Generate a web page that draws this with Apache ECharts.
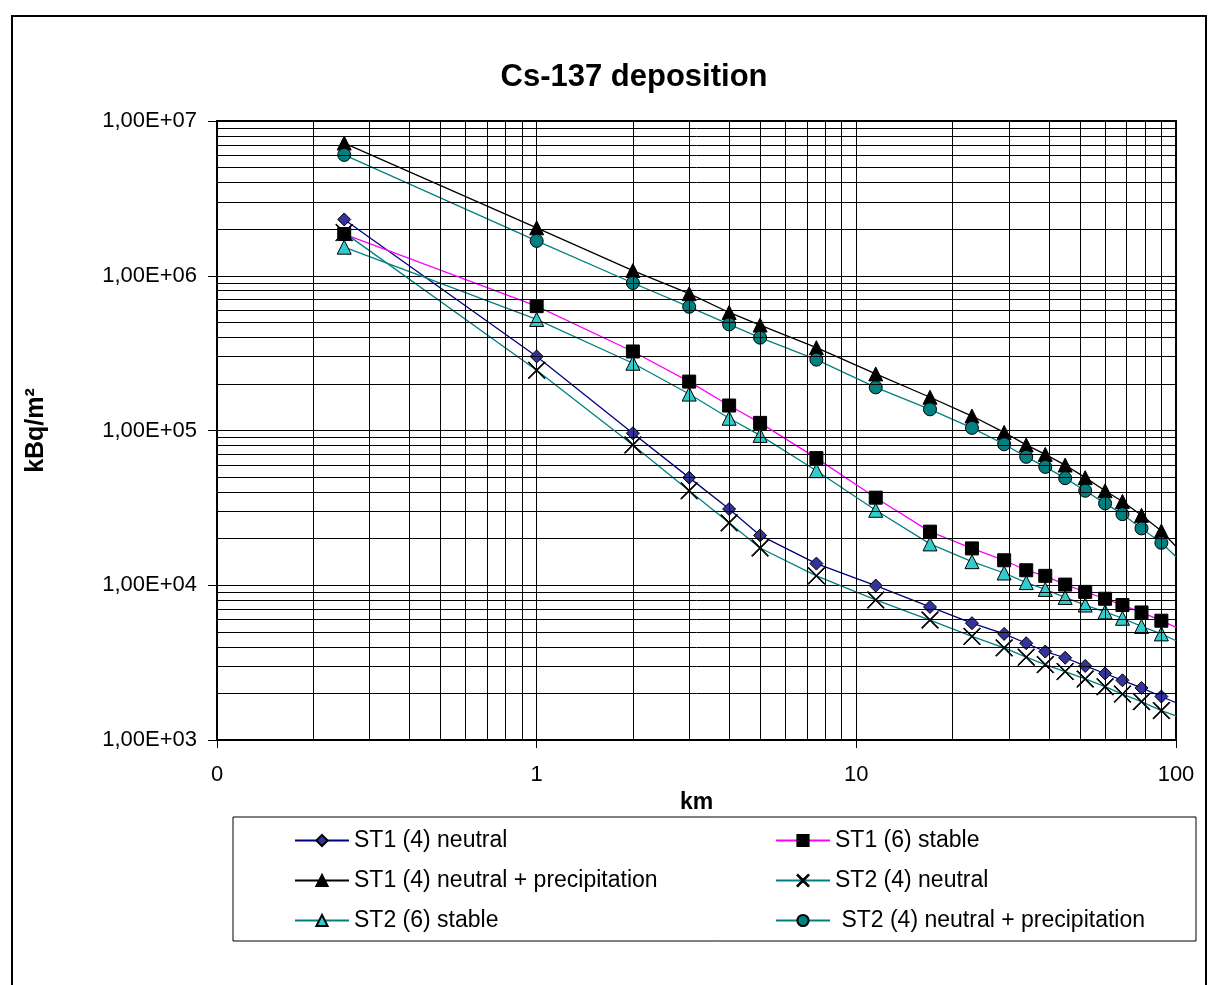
<!DOCTYPE html>
<html>
<head>
<meta charset="utf-8">
<script src="https://cdn.jsdelivr.net/npm/echarts@6/dist/echarts.min.js"></script>
<style>
  html, body { margin: 0; padding: 0; background: #fff; }
  #chart { width: 1208px; height: 985px; }
</style>
</head>
<body>
<div id="chart"></div>
<script>
// distances (km) - last one has no marker, line just runs to the edge
const dist = [0.25, 1, 2, 3, 4, 5, 7.5, 11.5, 17, 23, 29, 34, 39, 45, 52, 60, 68, 78, 90, 100];

const st1Neutral = [2.31e6, 3.01e5, 9.6e4, 4.96e4, 3.11e4, 2.1e4, 1.38e4, 9.95e3, 7.24e3, 5.69e3, 4.85e3, 4.22e3, 3.73e3, 3.40e3, 3.01e3, 2.69e3, 2.43e3, 2.17e3, 1.91e3, 1.74e3];
const st1Stable = [1.86e6, 6.36e5, 3.24e5, 2.07e5, 1.45e5, 1.12e5, 6.63e4, 3.68e4, 2.22e4, 1.73e4, 1.45e4, 1.25e4, 1.15e4, 1.01e4, 9.06e3, 8.18e3, 7.45e3, 6.67e3, 5.9e3, 5.35e3];
const st1Precip = [7.2e6, 2.04e6, 1.08e6, 7.66e5, 5.79e5, 4.8e5, 3.43e5, 2.32e5, 1.64e5, 1.24e5, 9.72e4, 8.07e4, 7.01e4, 5.98e4, 4.96e4, 4.08e4, 3.48e4, 2.83e4, 2.24e4, 1.78e4];
const st2Neutral = [1.9e6, 2.45e5, 8.07e4, 4.08e4, 2.53e4, 1.74e4, 1.15e4, 8.04e3, 5.96e3, 4.67e3, 3.94e3, 3.43e3, 3.07e3, 2.77e3, 2.48e3, 2.21e3, 1.98e3, 1.77e3, 1.55e3, 1.43e3];
const st2Stable = [1.53e6, 5.22e5, 2.72e5, 1.72e5, 1.2e5, 9.3e4, 5.5e4, 3.05e4, 1.85e4, 1.42e4, 1.2e4, 1.04e4, 9.4e3, 8.34e3, 7.45e3, 6.73e3, 6.12e3, 5.42e3, 4.85e3, 4.38e3];
const st2Precip = [6.04e6, 1.68e6, 8.98e5, 6.3e5, 4.85e5, 3.98e5, 2.87e5, 1.9e5, 1.37e5, 1.04e5, 8.15e4, 6.76e4, 5.82e4, 4.92e4, 4.08e4, 3.38e4, 2.88e4, 2.33e4, 1.88e4, 1.53e4];

// minor grid positions (log axes)
const xMinor = [0.2, 0.3, 0.4, 0.5, 0.6, 0.7, 0.8, 0.9, 2, 3, 4, 5, 6, 7, 8, 9, 20, 30, 40, 50, 60, 70, 80, 90];
const yMinor = [];
[1e3, 1e4, 1e5, 1e6].forEach(d => { for (let k = 2; k <= 9; k++) yMinor.push(k * d); });

const FONT = '"Liberation Sans", Arial, sans-serif';
// thin X marker
const crossPath = 'path://M0,0.4L0.4,0L5,4.6L9.6,0L10,0.4L5.4,5L10,9.6L9.6,10L5,5.4L0.4,10L0,9.6L4.6,5Z';

function pts(vals) {
  return dist.map((d, i) => i === dist.length - 1
    ? { value: [d, vals[i]], symbol: 'none' }
    : [d, vals[i]]);
}

function mkSeries(name, vals, lineColor, symbol, size, fill) {
  return {
    name: name,
    type: 'line',
    data: pts(vals),
    symbol: symbol,
    symbolSize: size,
    showAllSymbol: true,
    z: 3,
    lineStyle: { color: lineColor, width: 1.3 },
    itemStyle: { color: fill, borderColor: '#000', borderWidth: 1 },
    emphasis: { disabled: true }
  };
}

const chart = echarts.init(document.getElementById('chart'));

const legendCommon = {
  orient: 'vertical',
  top: 824,
  itemWidth: 54,
  itemHeight: 14,
  itemGap: 17,
  textStyle: { fontFamily: FONT, fontSize: 23, color: '#000' },
  selectedMode: false
};

chart.setOption({
  animation: false,
  backgroundColor: '#fff',
  grid: {
    left: 217, right: 32, top: 121, bottom: 245,
    show: true, borderColor: '#000', borderWidth: 2, backgroundColor: '#fff'
  },
  graphic: [
    { type: 'rect', shape: { x: 12, y: 16, width: 1194, height: 1000 },
      style: { fill: 'none', stroke: '#000', lineWidth: 2 }, z: 0 },
    { type: 'rect', shape: { x: 233, y: 817, width: 963, height: 124 },
      style: { fill: 'none', stroke: '#000', lineWidth: 1 }, z: 0 },
    { type: 'text', x: 634, y: 77,
      style: { text: 'Cs-137 deposition', font: 'bold 31px ' + FONT, fill: '#000',
               align: 'center', verticalAlign: 'middle' } }
  ],
  legend: [
    Object.assign({ left: 289, data: ['ST1 (4) neutral', 'ST1 (4) neutral + precipitation', 'ST2 (6) stable'] }, legendCommon),
    Object.assign({ left: 770, data: ['ST1 (6) stable', 'ST2 (4) neutral', ' ST2 (4) neutral + precipitation'] }, legendCommon)
  ],
  xAxis: {
    type: 'log', logBase: 10, min: 0.1, max: 100,
    name: 'km', nameLocation: 'middle', nameGap: 44,
    nameTextStyle: { fontFamily: FONT, fontSize: 23, fontWeight: 'bold', color: '#000' },
    axisLine: { show: true, lineStyle: { color: '#000', width: 2 } },
    axisTick: { show: true, length: 8, lineStyle: { color: '#000' } },
    axisLabel: {
      margin: 24, fontFamily: FONT, fontSize: 22, color: '#000',
      formatter: v => String(Math.round(v))
    },
    splitLine: { show: true, lineStyle: { color: '#000', width: 1 } }
  },
  yAxis: {
    type: 'log', logBase: 10, min: 1e3, max: 1e7, splitNumber: 4,
    name: 'kBq/m²', nameLocation: 'middle', nameGap: 168, nameRotate: 90,
    nameTextStyle: { fontFamily: FONT, fontSize: 25, fontWeight: 'bold', color: '#000' },
    axisLine: { show: true, lineStyle: { color: '#000', width: 2 } },
    axisTick: { show: true, length: 9, lineStyle: { color: '#000' } },
    axisLabel: {
      margin: 20, fontFamily: FONT, fontSize: 22, color: '#000',
      showMinLabel: true, showMaxLabel: true,
      formatter: v => {
        const e = Math.round(Math.log10(v));
        return '1,00E+' + (e < 10 ? '0' : '') + e;
      }
    },
    splitLine: { show: true, lineStyle: { color: '#000', width: 1 } }
  },
  series: [
    {
      type: 'line', data: [], z: 1, silent: true,
      markLine: {
        silent: true, symbol: ['none', 'none'], animation: false,
        label: { show: false },
        lineStyle: { color: '#000', width: 1, type: 'solid' },
        emphasis: { disabled: true },
        data: xMinor.map(v => ({ xAxis: v })).concat(yMinor.map(v => ({ yAxis: v })))
      }
    },
    mkSeries('ST1 (4) neutral', st1Neutral, '#000080', 'diamond', 13, '#333399'),
    mkSeries('ST1 (6) stable', st1Stable, '#FF00FF', 'rect', 13, '#000'),
    mkSeries('ST1 (4) neutral + precipitation', st1Precip, '#000', 'triangle', 14, '#000'),
    mkSeries('ST2 (4) neutral', st2Neutral, '#008080', crossPath, 17, '#000'),
    mkSeries('ST2 (6) stable', st2Stable, '#008080', 'triangle', 14, '#33CCCC'),
    mkSeries(' ST2 (4) neutral + precipitation', st2Precip, '#008080', 'circle', 13, '#008080')
  ]
});
</script>
</body>
</html>
